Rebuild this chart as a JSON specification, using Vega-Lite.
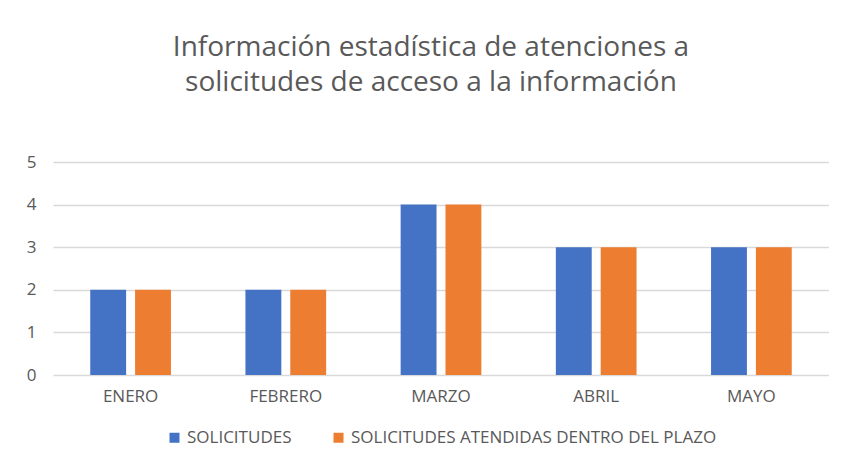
{
  "$schema": "https://vega.github.io/schema/vega-lite/v6.json",
  "width": 776,
  "height": 213,
  "padding": {"left": 26, "top": 34, "right": 0, "bottom": 8},
  "background": "white",
  "title": {
    "text": ["Información estadística de atenciones a", "solicitudes de acceso a la información"],
    "font": "Open Sans",
    "fontSize": 28,
    "fontWeight": "normal",
    "color": "#595959",
    "lineHeight": 35,
    "offset": 56,
    "dx": -10,
    "anchor": "middle"
  },
  "data": {
    "values": [
      {"mes": "ENERO", "serie": "SOLICITUDES", "valor": 2},
      {"mes": "ENERO", "serie": "SOLICITUDES ATENDIDAS DENTRO DEL PLAZO", "valor": 2},
      {"mes": "FEBRERO", "serie": "SOLICITUDES", "valor": 2},
      {"mes": "FEBRERO", "serie": "SOLICITUDES ATENDIDAS DENTRO DEL PLAZO", "valor": 2},
      {"mes": "MARZO", "serie": "SOLICITUDES", "valor": 4},
      {"mes": "MARZO", "serie": "SOLICITUDES ATENDIDAS DENTRO DEL PLAZO", "valor": 4},
      {"mes": "ABRIL", "serie": "SOLICITUDES", "valor": 3},
      {"mes": "ABRIL", "serie": "SOLICITUDES ATENDIDAS DENTRO DEL PLAZO", "valor": 3},
      {"mes": "MAYO", "serie": "SOLICITUDES", "valor": 3},
      {"mes": "MAYO", "serie": "SOLICITUDES ATENDIDAS DENTRO DEL PLAZO", "valor": 3}
    ]
  },
  "mark": {"type": "bar"},
  "encoding": {
    "x": {
      "field": "mes",
      "type": "nominal",
      "sort": ["ENERO", "FEBRERO", "MARZO", "ABRIL", "MAYO"],
      "scale": {"paddingInner": 0.48, "paddingOuter": 0.24},
      "axis": {
        "title": null,
        "labelAngle": 0,
        "labelFont": "Open Sans",
        "labelFontSize": 17,
        "labelColor": "#595959",
        "labelPadding": 13,
        "ticks": false,
        "domain": false,
        "grid": false
      }
    },
    "xOffset": {
      "field": "serie",
      "type": "nominal",
      "scale": {"paddingInner": 0.2, "paddingOuter": 0}
    },
    "y": {
      "field": "valor",
      "type": "quantitative",
      "scale": {"domain": [0, 5], "nice": false},
      "axis": {
        "title": null,
        "values": [0, 1, 2, 3, 4, 5],
        "labelOverlap": false,
        "labelFont": "Open Sans",
        "labelFontSize": 17,
        "labelColor": "#595959",
        "labelPadding": 17,
        "ticks": false,
        "domain": false,
        "grid": true,
        "gridColor": "#d9d9d9",
        "gridWidth": 1.3
      }
    },
    "color": {
      "field": "serie",
      "type": "nominal",
      "scale": {
        "domain": ["SOLICITUDES", "SOLICITUDES ATENDIDAS DENTRO DEL PLAZO"],
        "range": ["#4472C4", "#ED7D31"]
      },
      "legend": {
        "title": null,
        "orient": "bottom",
        "direction": "horizontal",
        "symbolType": "square",
        "symbolSize": 100,
        "symbolStrokeWidth": 0,
        "labelFont": "Open Sans",
        "labelFontSize": 17,
        "labelColor": "#595959",
        "labelLimit": 600,
        "columnPadding": 38,
        "offset": 25
      }
    }
  },
  "config": {
    "view": {"stroke": null},
    "legend": {"layout": {"bottom": {"anchor": "middle"}}}
  }
}
